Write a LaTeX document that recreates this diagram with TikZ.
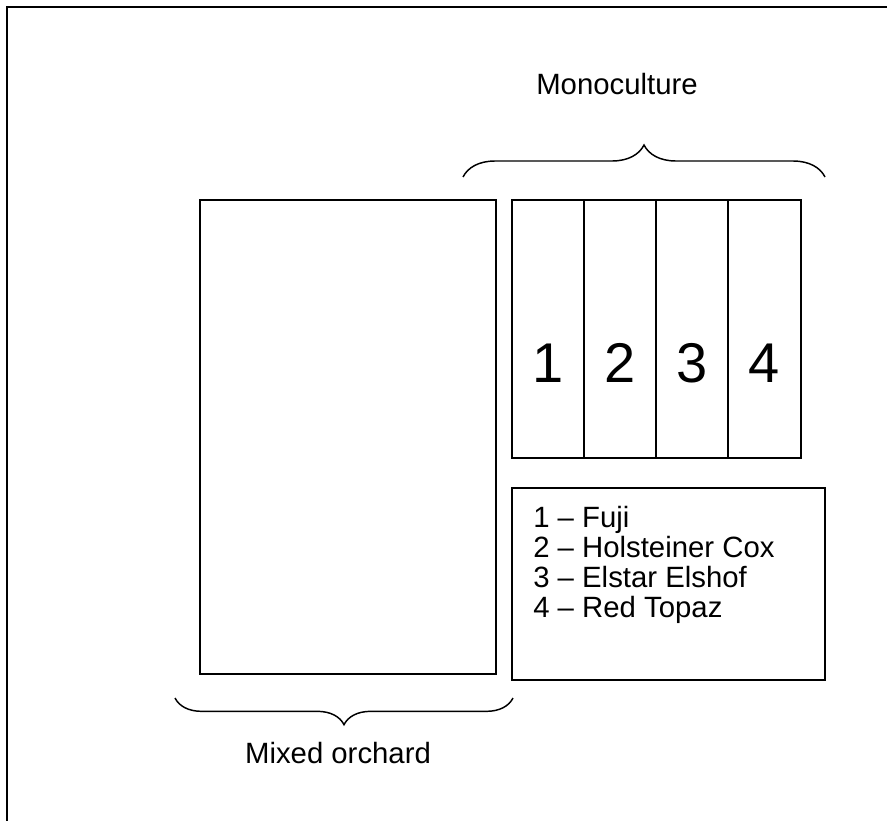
\documentclass[tikz,border=0pt]{standalone}
\usepackage{fontspec}
\setmainfont{Liberation Sans}
\usetikzlibrary{decorations.pathreplacing}
\begin{document}
\begin{tikzpicture}[x=0.75pt,y=-0.75pt,
  plotbox/.style={draw=black,line width=1.1pt},
  lbl/.style={font=\fontsize{22}{26}\selectfont,inner sep=0pt},
  bignum/.style={font=\fontsize{42}{48}\selectfont,inner sep=0pt},
  bracepath/.style={draw,line width=1.1pt,decorate,decoration={brace,amplitude=#1}}]
\useasboundingbox (0,0) rectangle (887,821);
% outer frame
\draw[line width=1.6pt] (887,7) -- (7,7) -- (7,821);
% mixed orchard plot
\draw[plotbox] (200,200) rectangle (496,674);
% monoculture strips
\draw[plotbox] (512,200) rectangle (584,458);
\draw[plotbox] (584,200) rectangle (656,458);
\draw[plotbox] (656,200) rectangle (728,458);
\draw[plotbox] (728,200) rectangle (801,458);
\node[bignum] (n1) at (548,363) {1};
\node[bignum] (n2) at (620,363) {2};
\node[bignum] (n3) at (692,363) {3};
\node[bignum] (n4) at (764,363) {4};
% legend
\draw[plotbox] (512,488) rectangle (825,680);
\node[lbl,anchor=base west] (l1) at (533,527) {1 – Fuji};
\node[lbl,anchor=base west] (l2) at (533,557) {2 – Holsteiner Cox};
\node[lbl,anchor=base west] (l3) at (533,587) {3 – Elstar Elshof};
\node[lbl,anchor=base west] (l4) at (533,617) {4 – Red Topaz};
% braces
\coordinate (tb1) at (463,177);
\coordinate (tb2) at (825,177);
\draw[bracepath=24pt] (tb1) -- (tb2);
\coordinate (bb1) at (513,698);
\coordinate (bb2) at (175,698);
\draw[bracepath=20pt] (bb1) -- (bb2);
\node[lbl,anchor=base] (mono) at (617,94) {Monoculture};
\node[lbl,anchor=base] (mixed) at (338,763) {Mixed orchard};
\end{tikzpicture}
\end{document}
